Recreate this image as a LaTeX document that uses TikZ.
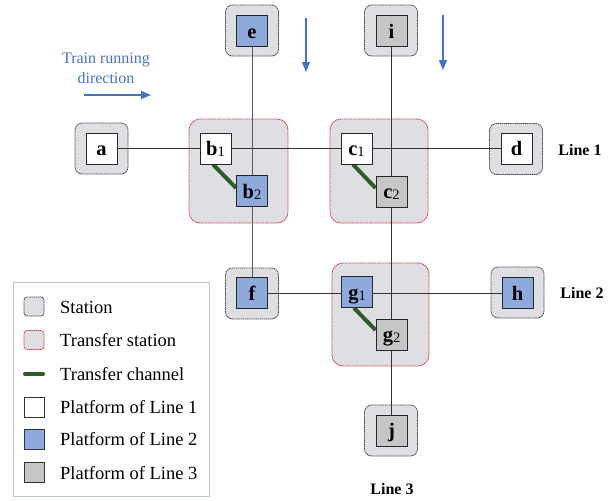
\documentclass[tikz,border=0pt]{standalone}
\usepackage{fontspec}
\setmainfont{Liberation Serif}
\usetikzlibrary{arrows.meta,calc}

\definecolor{stationfill}{HTML}{DFDFE3}
\definecolor{stationedge}{HTML}{454545}
\definecolor{transferedge}{HTML}{D43A45}
\definecolor{blueplat}{HTML}{8EA9DB}
\definecolor{grayplat}{HTML}{C6C6C6}
\definecolor{trackcol}{HTML}{333333}
\definecolor{channelgreen}{HTML}{2F5A2A}
\definecolor{dirblue}{HTML}{4472C4}
\definecolor{legendedge}{HTML}{B8CBB8}

\pgfdeclarelayer{outer}
\pgfdeclarelayer{lines}
\pgfsetlayers{outer,lines,main}

% platform label with a small upright index
\newcommand{\plab}[2]{#1\raisebox{-1pt}{\fontsize{14.5}{14.5}\selectfont\mdseries #2}}

\tikzset{
  station/.style={draw=stationedge, fill=stationfill, rounded corners=7pt,
    dash pattern=on 1.3pt off 0.6pt, line width=0.8pt,
    minimum width=53pt, minimum height=51pt, inner sep=0pt},
  transfer/.style={draw=transferedge, fill=stationfill, rounded corners=11pt,
    dash pattern=on 1.3pt off 0.6pt, line width=0.8pt, inner sep=0pt},
  platform/.style={draw=black!85, line width=0.9pt, minimum size=31pt, inner sep=0pt,
    font=\fontsize{20.5}{20.5}\selectfont\bfseries, text height=14.5pt, text depth=0pt},
  pone/.style={platform, fill=white},
  ptwo/.style={platform, fill=blueplat},
  pthree/.style={platform, fill=grayplat},
  track/.style={draw=trackcol, line width=0.9pt},
  channel/.style={draw=channelgreen, line width=4pt},
  dirarrow/.style={draw=dirblue, line width=1.1pt, -{Triangle[length=10pt,width=8pt]}},
  linelabel/.style={font=\fontsize{16}{16}\selectfont\bfseries},
  legendtext/.style={anchor=base west, font=\fontsize{18.5}{18.5}\selectfont, inner sep=0pt},
  legicon/.style={minimum width=20pt, minimum height=20pt, inner sep=0pt, line width=0.9pt},
}

\begin{document}
\begin{tikzpicture}[x=1pt,y=-1pt]
\useasboundingbox (0,0) rectangle (611,501);

% station enclosures
\begin{pgfonlayer}{outer}
  \node[station] (sa) at (101.5,148.5) {};
  \node[station] (sd) at (516,149) {};
  \node[station] (se) at (252,30.5) {};
  \node[station] (si) at (391,30.5) {};
  \node[station] (sf) at (252,293.5) {};
  \node[station] (sh) at (517.5,292.5) {};
  \node[station] (sj) at (391,430.5) {};
  \node[transfer, minimum width=99pt, minimum height=104pt] (sb) at (238.5,171) {};
  \node[transfer, minimum width=98pt, minimum height=104pt] (sc) at (379,171) {};
  \node[transfer, minimum width=97pt, minimum height=103pt] (sg) at (380.5,314.5) {};
\end{pgfonlayer}

% platforms
\node[pone] (a) at (101.5,148.5) {a};
\node[pone] (d) at (516.5,148.5) {d};
\node[pone] (b1) at (215.5,148.5) {\plab{b}{1}};
\node[pone] (c1) at (356.5,148.5) {\plab{c}{1}};
\node[ptwo] (e) at (252,31) {e};
\node[ptwo] (b2) at (252,191) {\plab{b}{2}};
\node[ptwo] (f) at (252,293) {f};
\node[ptwo] (g1) at (357,292) {\plab{g}{1}};
\node[ptwo] (h) at (517.5,293) {h};
\node[pthree] (i) at (391.5,31) {i};
\node[pthree] (c2) at (391.5,191.5) {\plab{c}{2}};
\node[pthree] (g2) at (391.5,334.5) {\plab{g}{2}};
\node[pthree] (j) at (391.5,430.5) {j};

% tracks and transfer channels
\begin{pgfonlayer}{lines}
  \draw[track] (a) -- (d);
  \draw[track, draw=black!65] (e) -- (f);
  \draw[track] (f) -- (h);
  \draw[track] (i) -- (j);
  \draw[channel] ($(b1.south)+(-2.5,0)$) -- ($(b2.west)+(0,-3)$);
  \draw[channel] ($(c1.south)+(-3.5,0)$) -- ($(c2.west)+(0,-3.5)$);
  \draw[channel] ($(g1.south)+(-3,0)$) -- ($(g2.west)+(0,-4.5)$);
\end{pgfonlayer}

% running direction
\node[text=dirblue, align=center, font=\fontsize{16}{20}\selectfont] (dirtext) at (106,68)
  {Train running\\direction};
\coordinate (h0) at (84,95);   \coordinate (h1) at (151,95);
\coordinate (v0) at (306,18);  \coordinate (v1) at (306,72);
\coordinate (w0) at (443,15);  \coordinate (w1) at (443,70);
\draw[dirarrow] (h0) -- (h1);
\draw[dirarrow] (v0) -- (v1);
\draw[dirarrow] (w0) -- (w1);

% line names
\node[linelabel] (l1) at (580,150) {Line 1};
\node[linelabel] (l2) at (582,293) {Line 2};
\node[linelabel] (l3) at (392,489) {Line 3};

% legend
\node[draw=legendedge, line width=0.8pt, minimum width=196pt, minimum height=214pt] (legend) at (111,389) {};
\node[legicon, station, minimum width=20pt, minimum height=19pt, rounded corners=3pt] (k1) at (34,306.5) {};
\node[legicon, transfer, minimum width=20pt, minimum height=19pt, rounded corners=3pt] (k2) at (34,340) {};
\coordinate (k3a) at (25,374); \coordinate (k3b) at (43,374);
\draw[channel, line cap=round] (k3a) -- (k3b);
\node[legicon, draw=black!80, fill=white] (k4) at (34,407) {};
\node[legicon, draw=black!80, fill=blueplat] (k5) at (34,439) {};
\node[legicon, draw=black!80, fill=grayplat] (k6) at (34,472.5) {};
\node[legendtext] (t1) at (60,313) {Station};
\node[legendtext] (t2) at (60,346.5) {Transfer station};
\node[legendtext] (t3) at (60,380.5) {Transfer channel};
\node[legendtext] (t4) at (60,413.5) {Platform of Line 1};
\node[legendtext] (t5) at (60,445.5) {Platform of Line 2};
\node[legendtext] (t6) at (60,479) {Platform of Line 3};
\end{tikzpicture}
\end{document}
